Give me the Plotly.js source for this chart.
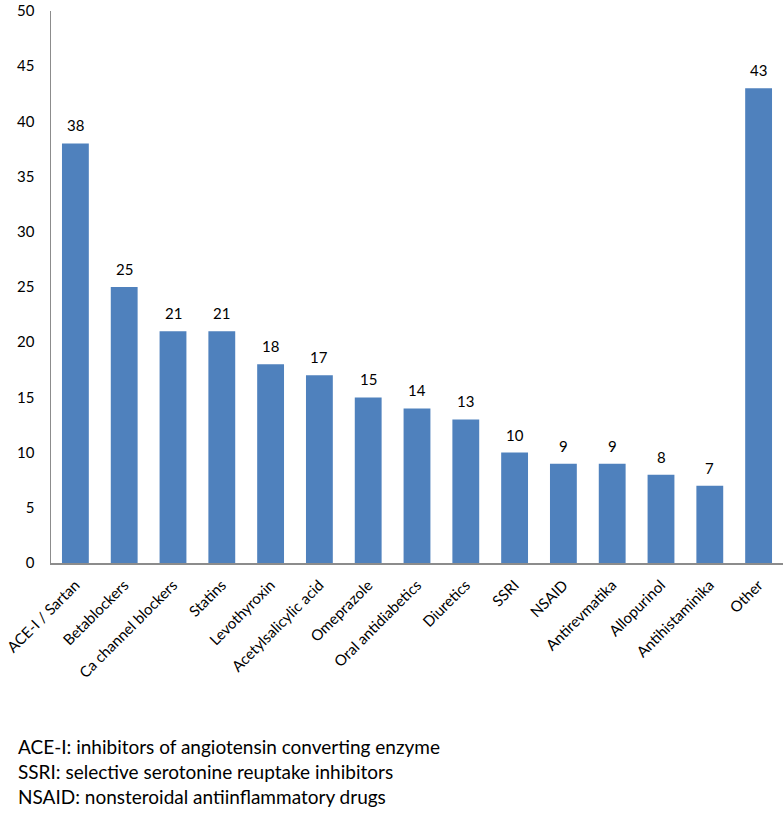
<!DOCTYPE html>
<html><head><meta charset="utf-8">
<script src="https://cdn.plot.ly/plotly-3.0.1.min.js"></script>
<style>html,body{margin:0;padding:0;background:#fff}#chart{width:784px;height:829px}</style>
</head><body><div id="chart"></div>
<script>
const categories = ["ACE-I / Sartan","Betablockers","Ca channel blockers","Statins","Levothyroxin","Acetylsalicylic acid","Omeprazole","Oral antidiabetics","Diuretics","SSRI","NSAID","Antirevmatika","Allopurinol","Antihistaminika","Other"];
const values = [38,25,21,21,18,17,15,14,13,10,9,9,8,7,43];
const yTicks = [0,5,10,15,20,25,30,35,40,45,50];
const footnotes = ["ACE-I: inhibitors of angiotensin converting enzyme","SSRI: selective serotonine reuptake inhibitors","NSAID: nonsteroidal antiinflammatory drugs"];

const font = "Lato, 'Open Sans', sans-serif";
const annotations = categories.map((c,i)=>({
  x:c, y:values[i], xref:'x', yref:'y', text:String(values[i]), showarrow:false,
  yanchor:'bottom', yshift:7, font:{family:font,size:15,color:'#000'}
}));
const plotH = 829-11-266;
const footY = [746,771,796];
footnotes.forEach((t,i)=>annotations.push({
  xref:'paper', yref:'paper', x:(16-51)/732, y:(563-footY[i])/plotH, xanchor:'left', yanchor:'middle',
  text:t, showarrow:false, font:{family:font,size:19,color:'#000'}
}));

Plotly.newPlot('chart',[{
  type:'bar', x:categories, y:values, marker:{color:'#4F81BD'}, hoverinfo:'none'
}],{
  width:784, height:829, margin:{l:51,r:1,t:11,b:266},
  paper_bgcolor:'#fff', plot_bgcolor:'#fff', bargap:0.45, showlegend:false,
  xaxis:{type:'category', tickangle:-45, showline:true, linecolor:'#8c8c8c', linewidth:1.5,
    ticks:'outside', ticklen:6, tickcolor:'rgba(0,0,0,0)', showgrid:false, zeroline:false,
    tickfont:{family:font,size:15,color:'#000'}, fixedrange:true},
  yaxis:{range:[0,50], tickvals:yTicks, showline:true, linecolor:'#8c8c8c', linewidth:1.5,
    ticks:'outside', ticklen:12, tickcolor:'rgba(0,0,0,0)', showgrid:false, zeroline:false,
    tickfont:{family:font,size:15,color:'#000'}, fixedrange:true},
  annotations:annotations
},{displayModeBar:false, staticPlot:true});
</script></body></html>
